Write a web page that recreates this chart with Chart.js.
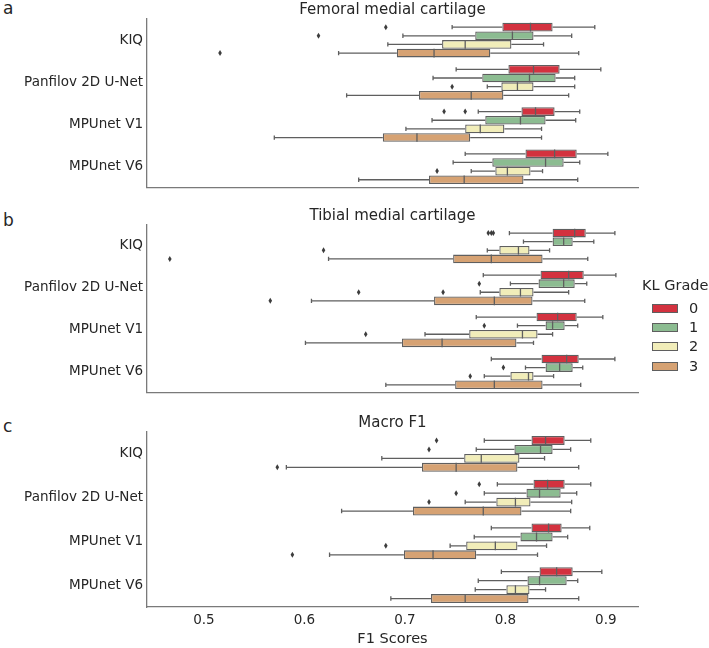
<!DOCTYPE html>
<html>
<head>
<meta charset="utf-8">
<script src="https://cdn.jsdelivr.net/npm/chart.js@4.4.1/dist/chart.umd.min.js"></script>
<style>
  body { margin: 0; background: #fff; font-family: "DejaVu Sans", sans-serif; color: #262626; }
  #page { position: relative; width: 709px; height: 648px; overflow: hidden; }
  .panel { position: absolute; left: 0; width: 709px; }
  .letter { position: absolute; left: 3px; font-size: 17px; line-height: 1; }
  #legend { position: absolute; left: 642px; top: 278px; font-size: 14.5px; line-height: 1; }
  #legend .title { margin-bottom: 6px; }
  #legend .row { display: flex; align-items: center; height: 19.3px; margin-left: 10px; }
  #legend .swatch { width: 26px; height: 9px; border: 1px solid #5f5f5f; box-sizing: border-box; margin-right: 11px; }
</style>
</head>
<body>
<div id="page">
  <div class="letter" style="top:0px">a</div>
  <div class="letter" style="top:212px">b</div>
  <div class="letter" style="top:418px">c</div>
  <div class="panel" style="top:0;height:200px"><canvas id="femoralChart"></canvas></div>
  <div class="panel" style="top:205px;height:200px"><canvas id="tibialChart"></canvas></div>
  <div class="panel" style="top:410px;height:238px"><canvas id="macroChart"></canvas></div>
  <div id="legend"></div>
</div>
<script>
const models = ['KIQ', 'Panfilov 2D U-Net', 'MPUnet V1', 'MPUnet V6'];
const grades = ['0', '1', '2', '3'];
const palette = ['#d3323f', '#8cbc91', '#f1edb9', '#d6a273'];
const xTicks = [0.5, 0.6, 0.7, 0.8, 0.9];

// [low whisker, q1, median, q3, high whisker] per model, one list per KL grade
const femoralBoxes = [
  [[0.747, 0.797, 0.825, 0.847, 0.889], [0.751, 0.803, 0.828, 0.854, 0.895], [0.773, 0.816, 0.830, 0.849, 0.874], [0.760, 0.820, 0.849, 0.871, 0.902]],
  [[0.698, 0.770, 0.807, 0.828, 0.866], [0.728, 0.777, 0.824, 0.850, 0.869], [0.727, 0.780, 0.815, 0.840, 0.870], [0.748, 0.787, 0.840, 0.858, 0.874]],
  [[0.683, 0.737, 0.760, 0.806, 0.838], [0.782, 0.796, 0.812, 0.828, 0.869], [0.701, 0.760, 0.775, 0.799, 0.836], [0.766, 0.790, 0.802, 0.825, 0.837]],
  [[0.634, 0.692, 0.729, 0.785, 0.873], [0.642, 0.714, 0.766, 0.798, 0.863], [0.570, 0.678, 0.712, 0.765, 0.836], [0.654, 0.724, 0.759, 0.818, 0.872]],
];
const femoralOutliers = [
  [[0.681], [], [0.739, 0.760], []],
  [[0.614], [], [], []],
  [[], [0.747], [], [0.732]],
  [[0.516], [], [], []],
];

const tibialBoxes = [
  [[0.804, 0.847, 0.869, 0.880, 0.909], [0.778, 0.835, 0.863, 0.878, 0.910], [0.771, 0.831, 0.852, 0.871, 0.897], [0.786, 0.836, 0.861, 0.873, 0.909]],
  [[0.818, 0.847, 0.858, 0.867, 0.888], [0.805, 0.833, 0.858, 0.869, 0.881], [0.812, 0.840, 0.847, 0.859, 0.872], [0.820, 0.840, 0.854, 0.867, 0.877]],
  [[0.782, 0.794, 0.813, 0.824, 0.844], [0.775, 0.794, 0.815, 0.828, 0.863], [0.720, 0.764, 0.817, 0.832, 0.847], [0.779, 0.805, 0.823, 0.828, 0.848]],
  [[0.624, 0.748, 0.786, 0.837, 0.882], [0.607, 0.729, 0.789, 0.827, 0.879], [0.601, 0.697, 0.737, 0.811, 0.828], [0.681, 0.750, 0.789, 0.837, 0.875]],
];
const tibialOutliers = [
  [[0.783, 0.786, 0.788], [], [], []],
  [[], [0.774], [0.779], [0.798]],
  [[0.619], [0.738, 0.654], [0.661], [0.765]],
  [[0.466], [0.566], [], []],
];

const macroBoxes = [
  [[0.779, 0.826, 0.840, 0.859, 0.885], [0.792, 0.828, 0.842, 0.859, 0.885], [0.786, 0.826, 0.843, 0.856, 0.884], [0.796, 0.834, 0.851, 0.867, 0.896]],
  [[0.771, 0.809, 0.835, 0.847, 0.865], [0.779, 0.821, 0.834, 0.855, 0.871], [0.769, 0.815, 0.831, 0.847, 0.862], [0.773, 0.822, 0.834, 0.861, 0.872]],
  [[0.677, 0.759, 0.776, 0.814, 0.839], [0.760, 0.791, 0.810, 0.825, 0.866], [0.745, 0.761, 0.790, 0.812, 0.841], [0.770, 0.801, 0.810, 0.824, 0.840]],
  [[0.582, 0.717, 0.751, 0.812, 0.873], [0.637, 0.708, 0.778, 0.816, 0.865], [0.625, 0.699, 0.728, 0.771, 0.832], [0.686, 0.726, 0.760, 0.823, 0.873]],
];
const macroOutliers = [
  [[0.7315], [0.774], [], []],
  [[0.724], [0.751], [], []],
  [[], [0.724], [0.681], []],
  [[0.573], [], [0.588], []],
];

const edgeColor = '#5f5f5f';
const spineColor = '#7a7a7a';
const textColor = '#262626';
const font = 'DejaVu Sans';

// whiskers, caps, medians, outliers and the panel title, drawn through the chart scales
const makeBoxPlugin = (title, boxes, outliers) => ({
  id: 'boxDetails',
  afterDatasetsDraw(chart) {
    const { ctx, chartArea, scales: { x } } = chart;
    const px = (v) => x.getPixelForValue(v);
    ctx.save();
    ctx.strokeStyle = edgeColor;
    ctx.lineWidth = 1.3;
    boxes.forEach((rows, g) => {
      const meta = chart.getDatasetMeta(g);
      rows.forEach(([lo, q1, med, q3, hi], i) => {
        const bar = meta.data[i];
        const y = bar.y;
        const h = bar.height;
        const cap = h * 0.25;
        ctx.beginPath();
        ctx.moveTo(px(lo), y); ctx.lineTo(px(q1), y);
        ctx.moveTo(px(q3), y); ctx.lineTo(px(hi), y);
        ctx.moveTo(px(lo), y - cap); ctx.lineTo(px(lo), y + cap);
        ctx.moveTo(px(hi), y - cap); ctx.lineTo(px(hi), y + cap);
        ctx.moveTo(px(med), y - h / 2); ctx.lineTo(px(med), y + h / 2);
        ctx.stroke();
        ctx.fillStyle = '#3d3d3d';
        outliers[g][i].forEach((v) => {
          const cx = px(v);
          ctx.beginPath();
          ctx.moveTo(cx, y - 3); ctx.lineTo(cx + 1.8, y); ctx.lineTo(cx, y + 3); ctx.lineTo(cx - 1.8, y);
          ctx.closePath();
          ctx.fill();
        });
      });
    });
    ctx.fillStyle = textColor;
    ctx.font = `15px "${font}"`;
    ctx.textAlign = 'center';
    ctx.textBaseline = 'middle';
    ctx.fillText(title, (chartArea.left + chartArea.right) / 2, chartArea.top - 8.5);
    ctx.restore();
  },
});

const buildPanel = (canvasId, title, boxes, outliers, padTop, showTicks) => {
  const canvas = document.getElementById(canvasId);
  if (!canvas) {
    return null;
  }

  return new Chart(canvas.getContext('2d'), {
    type: 'bar',
    data: {
      labels: models,
      datasets: boxes.map((rows, g) => ({
        label: grades[g],
        data: rows.map((r) => [r[1], r[3]]),
        backgroundColor: palette[g],
        borderColor: edgeColor,
        borderWidth: 1.3,
        borderSkipped: false,
        categoryPercentage: 0.82,
        barPercentage: 1,
      })),
    },
    options: {
      indexAxis: 'y',
      responsive: true,
      maintainAspectRatio: false,
      animation: false,
      layout: { padding: { top: padTop, right: 71, left: 0, bottom: 0 } },
      plugins: { legend: { display: false }, tooltip: { enabled: false } },
      scales: {
        x: {
          min: 0.4433,
          max: 0.932,
          grid: { display: false, drawTicks: false },
          border: { display: true, color: spineColor, width: 1.3 },
          afterBuildTicks: (s) => { s.ticks = xTicks.map((v) => ({ value: v })); },
          afterFit: (s) => { s.height = showTicks ? 41 : 5; },
          ticks: {
            display: showTicks,
            padding: 5,
            color: textColor,
            font: { family: font, size: 13.5 },
            callback: (v) => Number(v).toFixed(1),
          },
          title: {
            display: showTicks,
            text: 'F1 Scores',
            color: textColor,
            font: { family: font, size: 14.5 },
            padding: { top: 0, bottom: 0 },
          },
        },
        y: {
          grid: { display: false, drawTicks: false },
          border: { display: true, color: spineColor, width: 1.3 },
          afterFit: (s) => { s.width = 147; },
          ticks: { padding: 4, color: textColor, font: { family: font, size: 13.5 } },
        },
      },
    },
    plugins: [makeBoxPlugin(title, boxes, outliers)],
  });
};

const updateLegend = () => {
  const legendEl = document.getElementById('legend');
  if (!legendEl) {
    return;
  }
  const rows = grades.map((g, idx) => (
    `<div class="row"><span class="swatch" style="background-color:${palette[idx]}"></span>${g}</div>`
  )).join('');
  legendEl.innerHTML = `<div class="title">KL Grade</div>${rows}`;
};

buildPanel('femoralChart', 'Femoral medial cartilage', femoralBoxes, femoralOutliers, 19, false);
buildPanel('tibialChart', 'Tibial medial cartilage', tibialBoxes, tibialOutliers, 20, false);
buildPanel('macroChart', 'Macro F1', macroBoxes, macroOutliers, 22, true);
updateLegend();
</script>
</body>
</html>
